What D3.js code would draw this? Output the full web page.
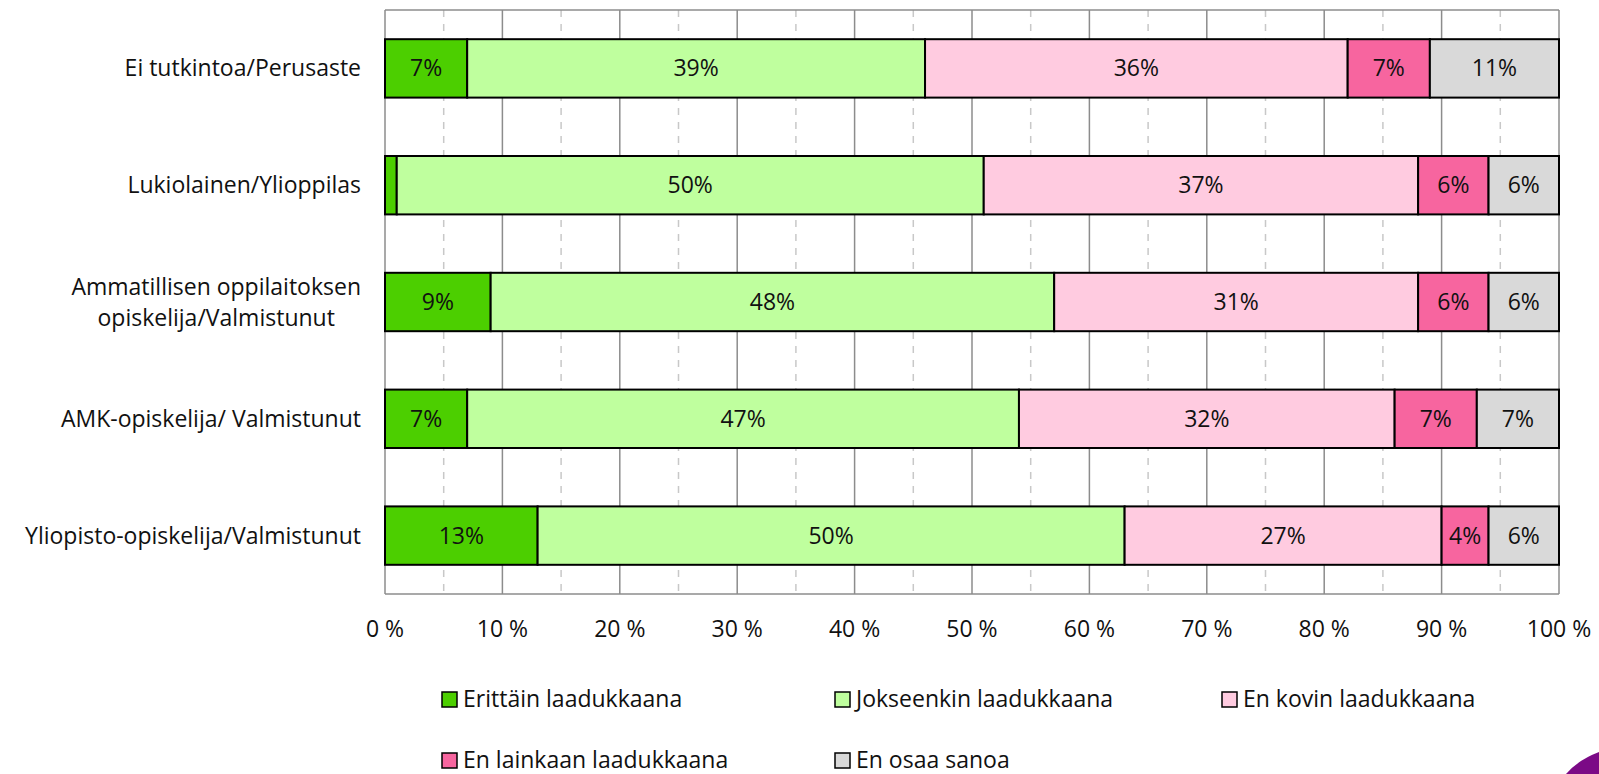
<!DOCTYPE html>
<html>
<head>
<meta charset="utf-8">
<script src="https://cdn.jsdelivr.net/npm/d3@7"></script>
<style>
  body { margin: 0; background: #fff; }
  svg text { font-family: "Open Sans", sans-serif; fill: #111; }
</style>
</head>
<body>
<svg id="chart" width="1599" height="774"></svg>
<script>
// categories and series
const categories = [
  'Ei tutkintoa/Perusaste',
  'Lukiolainen/Ylioppilas',
  'Ammatillisen oppilaitoksen\nopiskelija/Valmistunut',
  'AMK-opiskelija/ Valmistunut',
  'Yliopisto-opiskelija/Valmistunut'
];
const seriesNames = ['Erittäin laadukkaana', 'Jokseenkin laadukkaana', 'En kovin laadukkaana', 'En lainkaan laadukkaana', 'En osaa sanoa'];
const erittain   = [7, 1, 9, 7, 13];
const jokseenkin = [39, 50, 48, 47, 50];
const enKovin    = [36, 37, 31, 32, 27];
const enLainkaan = [7, 6, 6, 7, 4];
const enOsaa     = [11, 6, 6, 7, 6];
const xTicks = [0, 10, 20, 30, 40, 50, 60, 70, 80, 90, 100];

const colors = ['#4ccf00', '#bfff9e', '#ffcbe0', '#f7659f', '#d9d9d9'];

const svg = d3.select('#chart');
const margin = {left: 385, right: 40, top: 10, bottom: 180};
const W = 1599, H = 774;
const fs = 23;

const x = d3.scaleLinear().domain([0, 100]).range([margin.left, W - margin.right]);
const y = d3.scaleBand().domain(categories).range([margin.top, H - margin.bottom]).paddingInner(0.5).paddingOuter(0.25);

const rows = categories.map((c, i) => ({cat: c, vals: [erittain[i], jokseenkin[i], enKovin[i], enLainkaan[i], enOsaa[i]]}));
const stack = d3.stack().keys(d3.range(5)).value((d, k) => d.vals[k]);
const layers = stack(rows);

// grid
const g = svg.append('g');
d3.range(5, 100, 10).forEach(v => {
  g.append('line').attr('x1', x(v)).attr('x2', x(v)).attr('y1', margin.top).attr('y2', H - margin.bottom)
    .attr('stroke', '#c8c8c8').attr('stroke-width', 1.5).attr('stroke-dasharray', '7,7');
});
xTicks.forEach(v => {
  g.append('line').attr('x1', x(v)).attr('x2', x(v)).attr('y1', margin.top).attr('y2', H - margin.bottom)
    .attr('stroke', '#8c8c8c').attr('stroke-width', 1.5);
});
g.append('line').attr('x1', x(0)).attr('x2', x(100)).attr('y1', margin.top).attr('y2', margin.top)
  .attr('stroke', '#8c8c8c').attr('stroke-width', 1.5);
g.append('line').attr('x1', x(0)).attr('x2', x(100)).attr('y1', H - margin.bottom).attr('y2', H - margin.bottom)
  .attr('stroke', '#8c8c8c').attr('stroke-width', 1.5);

// bars
layers.forEach((layer, k) => {
  const lg = svg.append('g');
  lg.selectAll('rect').data(layer).join('rect')
    .attr('x', d => x(d[0]))
    .attr('y', d => y(d.data.cat))
    .attr('width', d => x(d[1]) - x(d[0]))
    .attr('height', y.bandwidth())
    .attr('fill', colors[k])
    .attr('stroke', '#000')
    .attr('stroke-width', 2);
  lg.selectAll('text').data(layer.filter(d => d[1] - d[0] >= 3)).join('text')
    .attr('x', d => (x(d[0]) + x(d[1])) / 2)
    .attr('y', d => y(d.data.cat) + y.bandwidth() / 2)
    .attr('dy', '0.35em')
    .attr('text-anchor', 'middle')
    .attr('font-size', fs)
    .text(d => Math.round(d[1] - d[0]) + '%');
});

// category labels (multi-line ones centred on the first line)
categories.forEach(c => {
  const lines = c.split('\n');
  const cy = y(c) + y.bandwidth() / 2;
  const t = svg.append('text').attr('font-size', fs)
    .attr('text-anchor', lines.length > 1 ? 'middle' : 'end');
  const tsp = lines.map((ln, i) => t.append('tspan')
    .attr('y', cy + (i - (lines.length - 1) / 2) * 31)
    .attr('dy', '0.35em')
    .text(ln));
  if (lines.length > 1) {
    const w0 = tsp[0].node().getComputedTextLength();
    tsp.forEach(s => s.attr('x', 361 - w0 / 2));
  } else {
    tsp.forEach(s => s.attr('x', 361));
  }
});

// x labels
xTicks.forEach(v => {
  svg.append('text').attr('x', x(v)).attr('y', 629).attr('dy', '0.35em')
    .attr('text-anchor', 'middle').attr('font-size', fs).text(v + ' %');
});

// legend (baselines)
const legPos = [[442, 707], [835, 707], [1222, 707], [442, 768], [835, 768]];
seriesNames.forEach((n, k) => {
  const [lx, ly] = legPos[k];
  svg.append('rect').attr('x', lx).attr('y', ly - 15).attr('width', 15).attr('height', 15)
    .attr('fill', colors[k]).attr('stroke', '#000').attr('stroke-width', 1.5);
  svg.append('text').attr('x', lx + 21).attr('y', ly)
    .attr('font-size', fs).text(n);
});

// purple logo corner
svg.append('path').attr('d', 'M1599,752 L1599,774 L1566,774 Q1578,760 1599,752 Z').attr('fill', '#7b0a86');
</script>
</body>
</html>
